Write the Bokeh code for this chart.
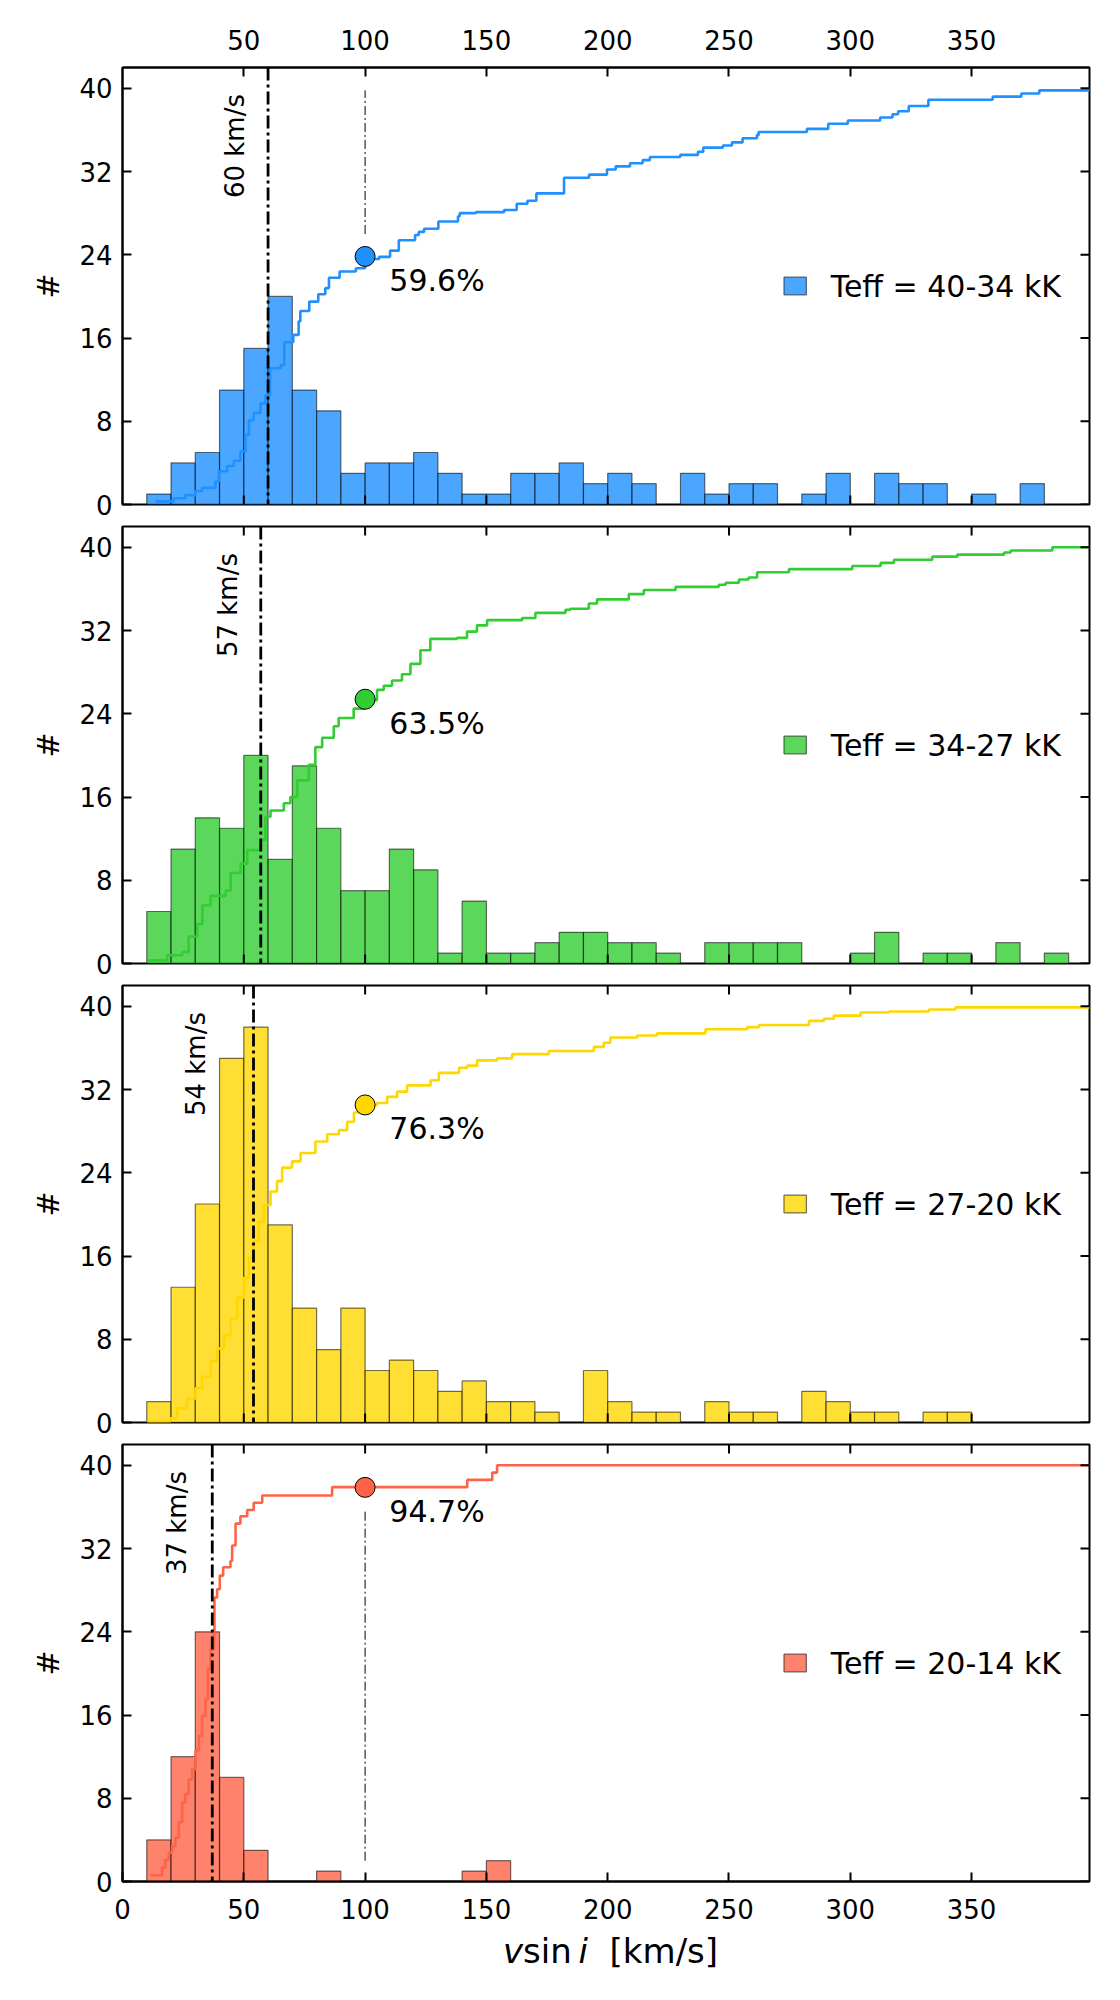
import math
from bokeh.plotting import figure
from bokeh.models import (Range1d, LinearAxis, FixedTicker, Span, Label,
                          Legend, LegendItem, ColumnDataSource, Div)
from bokeh.layouts import column
from bokeh.embed import file_html
from bokeh.resources import INLINE

# ---------------- data ----------------
bin_left = [10, 20, 30, 40, 50, 60, 70, 80, 90, 100, 110, 120, 130, 140, 150,
            160, 170, 180, 190, 200, 210, 220, 230, 240, 250, 260, 270, 280,
            290, 300, 310, 320, 330, 340, 350, 360, 370, 380]
bin_width = 10

counts_40_34 = [1, 4, 5, 11, 15, 20, 11, 9, 3, 4, 4, 5, 3, 1, 1, 3, 3, 4, 2,
                3, 2, 0, 3, 1, 2, 2, 0, 1, 3, 0, 3, 2, 2, 0, 1, 0, 2, 0]
counts_34_27 = [5, 11, 14, 13, 20, 10, 19, 13, 7, 7, 11, 9, 1, 6, 1, 1, 2, 3,
                3, 2, 2, 1, 0, 2, 2, 2, 2, 0, 0, 1, 3, 0, 1, 1, 0, 2, 0, 1]
counts_27_20 = [2, 13, 21, 35, 38, 19, 11, 7, 11, 5, 6, 5, 3, 4, 2, 2, 1, 0,
                5, 2, 1, 1, 0, 2, 1, 1, 0, 3, 2, 1, 1, 0, 1, 1, 0, 0, 0, 0]
counts_20_14 = [4, 12, 24, 10, 3, 0, 0, 1, 0, 0, 0, 0, 0, 1, 2, 0, 0, 0, 0,
                0, 0, 0, 0, 0, 0, 0, 0, 0, 0, 0, 0, 0, 0, 0, 0, 0, 0, 0]

# cumulative curves (vsini, scaled cumulative count) - step positions
cum_v_40_34 = [13.6, 21.1, 25.9, 30.1, 32.8, 38.3, 39.7, 43.1, 45.9, 48.6, 50.7,
               52.1, 54.1, 56.9, 58.9, 60.8, 65.2, 66.7, 70.4, 72.6, 73.3, 77.0,
               80.7, 83.6, 85.1, 89.5, 96.2, 100.0, 105.8, 110.3, 113.9, 120.6,
               122.1, 124.3, 130.2, 138.3, 139.0, 145.6, 157.3, 162.5, 166.9,
               170.6, 182.0, 192.3, 199.7, 203.3, 209.2, 214.4, 217.4, 229.9,
               237.2, 239.4, 247.5, 251.2, 255.6, 261.5, 262.2, 282.1, 290.9,
               299.0, 312.3, 317.4, 319.7, 324.1, 332.2, 358.7, 370.5, 377.9,
               398.6]
cum_n_40_34 = [0.3, 0.6, 0.9, 1.3, 1.6, 2.2, 3.2, 3.7, 4.2, 5.1, 6.7, 8.1, 8.8,
               9.7, 10.5, 13.1, 13.4, 15.6, 16.3, 17.6, 18.6, 19.5, 20.2, 20.8,
               21.8, 22.4, 22.7, 23.6, 23.8, 24.4, 25.4, 25.9, 26.2, 26.5, 27.2,
               27.7, 28.0, 28.1, 28.3, 28.9, 29.2, 29.9, 31.4, 31.7, 32.2, 32.5,
               32.8, 33.1, 33.4, 33.6, 33.9, 34.3, 34.5, 34.8, 35.2, 35.5, 35.8,
               36.1, 36.6, 36.9, 37.2, 37.5, 37.8, 38.3, 38.9, 39.2, 39.5, 39.8,
               40.0]

cum_v_34_27 = [10.2, 18.4, 24.6, 27.3, 30.8, 32.9, 36.3, 42.5, 44.6, 48.7, 51.4,
               56.9, 58.9, 61.0, 66.5, 69.2, 72.0, 76.8, 79.5, 82.3, 87.1, 89.1,
               95.3, 100.0, 104.9, 107.7, 111.1, 115.2, 118.7, 122.8, 126.9,
               137.9, 142.0, 146.1, 150.3, 164.7, 170.2, 182.6, 184.6, 192.2,
               195.6, 208.7, 214.9, 228.0, 245.8, 248.6, 254.1, 258.1, 261.6,
               274.7, 300.8, 312.5, 318.0, 333.8, 344.1, 363.4, 366.1, 383.3,
               398.6]
cum_n_34_27 = [0.3, 0.8, 1.1, 2.6, 3.8, 5.6, 6.5, 7.0, 8.7, 9.6, 10.9, 11.9,
               14.1, 14.7, 15.4, 16.0, 17.6, 19.1, 20.8, 21.7, 22.8, 23.6, 24.5,
               25.3, 26.3, 26.7, 27.2, 27.8, 28.8, 30.1, 31.2, 31.3, 31.9, 32.5,
               33.0, 33.2, 33.7, 34.0, 34.1, 34.6, 35.0, 35.5, 35.9, 36.2, 36.4,
               36.6, 36.9, 37.1, 37.6, 37.9, 38.2, 38.5, 38.8, 39.1, 39.3, 39.5,
               39.7, 40.0, 40.0]

cum_v_27_20 = [10.2, 19.8, 22.5, 26.6, 30.1, 32.8, 36.3, 39.0, 41.8, 44.5, 47.3,
               50.0, 52.1, 54.1, 56.2, 58.3, 61.0, 63.7, 65.8, 69.9, 73.4, 79.5,
               84.4, 89.2, 92.6, 95.4, 100.0, 104.9, 109.1, 113.2, 117.3, 127.0,
               130.4, 138.7, 142.1, 146.2, 154.4, 160.6, 175.7, 194.3, 198.4,
               201.1, 212.1, 220.4, 240.3, 257.5, 262.4, 283.0, 289.1, 293.2,
               304.2, 315.9, 332.4, 343.4, 398.6]
cum_n_27_20 = [0.1, 0.4, 1.4, 2.3, 3.3, 4.4, 5.9, 7.1, 8.4, 10.0, 12.0, 13.9,
               15.8, 17.4, 19.3, 20.9, 22.2, 23.2, 24.5, 25.1, 25.9, 27.0, 27.7,
               28.1, 28.9, 29.8, 30.5, 30.7, 31.3, 31.8, 32.4, 32.9, 33.6, 34.1,
               34.3, 34.8, 35.0, 35.4, 35.7, 36.1, 36.5, 37.0, 37.2, 37.4, 37.8,
               38.0, 38.2, 38.6, 38.8, 39.1, 39.4, 39.5, 39.7, 39.9, 39.9]

cum_v_20_14 = [11.5, 16.3, 17.7, 19.1, 20.5, 21.8, 23.2, 24.6, 25.9, 27.3, 28.7,
               30.1, 31.5, 32.8, 34.2, 35.2, 36.3, 37.7, 37.9, 39.0, 40.1, 41.5,
               44.5, 45.2, 46.6, 48.6, 51.4, 54.1, 57.6, 86.4, 142.1, 152.4,
               154.4, 398.6]
cum_n_20_14 = [0.6, 1.35, 2.1, 2.8, 3.4, 4.2, 5.7, 7.6, 8.4, 9.8, 10.8, 12.6,
               14.0, 15.9, 17.5, 20.4, 22.3, 23.8, 27.3, 28.1, 29.4, 30.2, 30.8,
               32.3, 34.4, 35.1, 35.7, 36.4, 37.1, 37.9, 38.6, 39.3, 40.0, 40.0]

teff_labels = ["Teff = 40-34 kK", "Teff = 34-27 kK", "Teff = 27-20 kK",
               "Teff = 20-14 kK"]
peak_vsini = [60, 57, 54, 37]              # km/s, dash-dot line values
pct_below_100 = [59.6, 63.5, 76.3, 94.7]   # percent of stars below 100 km/s
ref_vsini = 100
cum_scale = 40

x_ticks_all = [0, 50, 100, 150, 200, 250, 300, 350]
x_ticks_top = [50, 100, 150, 200, 250, 300, 350]
y_ticks = [0, 8, 16, 24, 32, 40]

# ---------------- styles / positions ----------------
FONT = "DejaVu Sans"
LINE_COLORS = ["#1E90FF", "#32CD32", "#FFD700", "#FF6347"]
X_MAX = 398.6
Y_MAX = 42
FRAME_W, FRAME_H = 967, 437
BORDER_L, BORDER_R = 122, 20
TICK_LEN = 9
PX_X = FRAME_W / X_MAX
PX_Y = FRAME_H / Y_MAX
ROT_TEXT_X = [46.5, 43.3, 30.1, 22.5]
ROT_TEXT_Y = 34.45
PCT_TEXT_DY = 2.3
GUIDE = [(26.0, 39.8), None, None, (2.0, 35.6)]

panels = list(zip(teff_labels, [counts_40_34, counts_34_27, counts_27_20, counts_20_14],
                  [cum_v_40_34, cum_v_34_27, cum_v_27_20, cum_v_20_14],
                  [cum_n_40_34, cum_n_34_27, cum_n_27_20, cum_n_20_14],
                  peak_vsini, pct_below_100))


def add_axis(p, side, ticks, standoff, axis_label=None):
    ax = LinearAxis(ticker=FixedTicker(ticks=ticks, minor_ticks=[]))
    ax.axis_line_color = "black"
    ax.axis_line_width = 2
    ax.major_tick_in = TICK_LEN
    ax.major_tick_out = 0
    ax.minor_tick_in = 0
    ax.minor_tick_out = 0
    ax.major_tick_line_color = "black"
    ax.major_tick_line_width = 2
    ax.major_label_text_font = FONT
    ax.major_label_text_color = "black"
    ax.major_label_text_font_size = "26px"
    ax.major_label_standoff = standoff
    if axis_label:
        ax.axis_label = axis_label
        ax.axis_label_text_font = FONT
        ax.axis_label_text_font_size = "30px"
        ax.axis_label_text_font_style = "normal"
        ax.axis_label_text_color = "black"
        ax.axis_label_standoff = 10
    p.add_layout(ax, side)


def inner_ticks(p, side, ticks):
    n = len(ticks)
    if side == "right":
        p.segment(x0=[X_MAX] * n, y0=ticks, x1=[X_MAX - TICK_LEN / PX_X] * n,
                  y1=ticks, line_color="black", line_width=2)
    elif side == "above":
        p.segment(x0=ticks, y0=[Y_MAX] * n, x1=ticks,
                  y1=[Y_MAX - TICK_LEN / PX_Y] * n, line_color="black", line_width=2)
    elif side == "below":
        p.segment(x0=ticks, y0=[0] * n, x1=ticks, y1=[TICK_LEN / PX_Y] * n,
                  line_color="black", line_width=2)


figs = []
for i, (lab, counts, cv, cn, peak, pct) in enumerate(panels):
    first, last = i == 0, i == len(panels) - 1
    top = 67 if first else 6
    bottom = 52 if last else 16
    color = LINE_COLORS[i]
    p = figure(width=BORDER_L + FRAME_W + BORDER_R, height=top + FRAME_H + bottom,
               x_range=Range1d(0, X_MAX), y_range=Range1d(0, Y_MAX),
               x_axis_location=None, y_axis_location=None,
               output_backend="svg", toolbar_location=None,
               min_border_left=BORDER_L, min_border_right=BORDER_R,
               min_border_top=top, min_border_bottom=bottom)
    p.grid.visible = False
    p.outline_line_color = "black"
    p.outline_line_width = 2
    p.background_fill_color = "white"
    p.border_fill_color = "white"

    # histogram
    lefts = [b for b, c in zip(bin_left, counts) if c > 0]
    src = ColumnDataSource(dict(left=lefts,
                                right=[b + bin_width for b in lefts],
                                top=[c for c in counts if c > 0]))
    bars = p.quad(left="left", right="right", top="top", bottom=0, source=src,
                  fill_color=color, fill_alpha=0.8, line_color="black",
                  line_alpha=0.55, line_width=1.2)

    # cumulative step curve
    p.step(x=cv, y=cn, mode="after", line_color=color, line_width=2.6)

    # peak line
    p.add_layout(Span(location=peak, dimension="height", line_color="black",
                      line_width=2.8, line_dash="13 4 3 4"))

    # thin guide at 100 km/s
    if GUIDE[i] is not None:
        p.segment(x0=[ref_vsini], y0=[GUIDE[i][0]], x1=[ref_vsini], y1=[GUIDE[i][1]],
                  line_color="black", line_width=1, line_dash="9 3 2 3")

    ym = pct / 100 * cum_scale
    p.scatter(x=[ref_vsini], y=[ym], size=20, fill_color=color,
              line_color="black", line_width=1)

    p.add_layout(Label(x=ref_vsini + 10, y=ym - PCT_TEXT_DY, text=f"{pct}%",
                       text_font=FONT, text_font_size="30px", text_color="black",
                       text_align="left", text_baseline="alphabetic"))
    p.add_layout(Label(x=ROT_TEXT_X[i], y=ROT_TEXT_Y, text=f"{peak} km/s",
                       angle=math.pi / 2, text_font=FONT, text_font_size="26px",
                       text_color="black", text_align="center",
                       text_baseline="middle"))

    legend = Legend(items=[LegendItem(label=lab, renderers=[bars])],
                    location="center_right", border_line_color=None,
                    background_fill_alpha=0, glyph_width=28, glyph_height=22,
                    label_text_font=FONT, label_text_font_size="30px",
                    label_text_color="black", label_standoff=22,
                    padding=16, margin=28)
    p.add_layout(legend)

    # axes: labelled ones as real axes, the rest as inner tick marks
    add_axis(p, "left", y_ticks, 10, axis_label="#")
    inner_ticks(p, "right", y_ticks)
    if first:
        add_axis(p, "above", x_ticks_top, 18)
    else:
        inner_ticks(p, "above", x_ticks_top)
    if last:
        add_axis(p, "below", x_ticks_all, 17)
    else:
        inner_ticks(p, "below", x_ticks_top)
    figs.append(p)

xlabel = Div(
    text=('<div style="margin-left:%dpx;width:%dpx;text-align:center;'
          'font-family:\'DejaVu Sans\';font-size:34px;line-height:34px;'
          'position:relative;top:-4px;'
          'color:black;white-space:nowrap;"><i>v</i>sin&thinsp;<i>i</i>'
          '&nbsp;&nbsp;[km/s]</div>') % (BORDER_L, FRAME_W),
    width=BORDER_L + FRAME_W + BORDER_R, height=56)

layout = column(*figs, xlabel, spacing=0)
open("out.html", "w").write(file_html(layout, INLINE))
